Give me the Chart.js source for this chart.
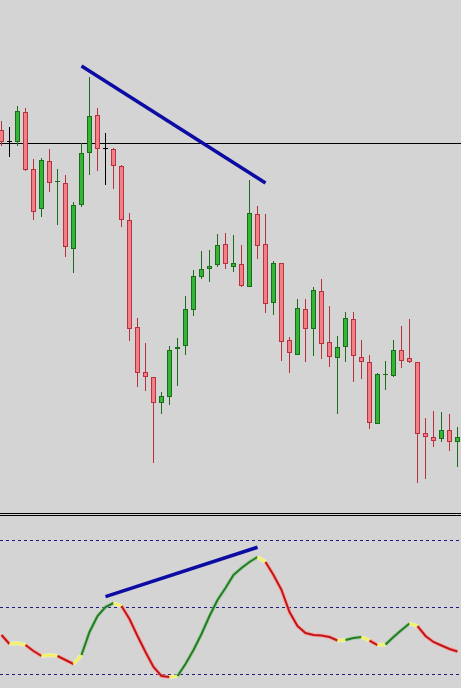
<!DOCTYPE html>
<html><head><meta charset="utf-8">
<script src="https://cdn.jsdelivr.net/npm/chart.js@4.4.1/dist/chart.umd.min.js"></script>
<style>
html,body{margin:0;padding:0;background:#d4d4d4;width:461px;height:688px;overflow:hidden}
#top{position:absolute;left:0;top:0;width:461px;height:513px}
#bot{position:absolute;left:0;top:516px;width:461px;height:172px}
.sep{position:absolute;left:0;width:461px;height:1px;background:#000}
canvas{display:block}
</style></head><body>
<div id="top"><canvas id="c1" width="461" height="513" style="width:461px;height:513px"></canvas></div>
<div class="sep" style="top:513px"></div>
<div class="sep" style="top:515px"></div>
<div id="bot"><canvas id="c2" width="461" height="172" style="width:461px;height:172px"></canvas></div>
<script>
// ---- price data (one entry per bar, oldest first) ----
const opens  = [1.3383,1.3371,1.3371,1.3401,1.3344,1.3304,1.3352,1.3331,1.3330,1.3264,1.3308,1.3360,1.3398,1.3364,1.3364,1.3347,1.3293,1.3186,1.3141,1.3136,1.3110,1.3116,1.3164,1.3167,1.3203,1.3236,1.3244,1.3248,1.3269,1.3246,1.3249,1.3226,1.3299,1.3269,1.3210,1.3250,1.3173,1.3158,1.3204,1.3184,1.3222,1.3171,1.3155,1.3166,1.3194,1.3156,1.3151,1.3089,1.3138,1.3137,1.3163,1.3155,1.3151,1.3080,1.3076,1.3074,1.3083,1.3071];
const highs  = [1.3392,1.3386,1.3407,1.3405,1.3354,1.3355,1.3364,1.3344,1.3338,1.3311,1.3370,1.3436,1.3405,1.3380,1.3365,1.3348,1.3300,1.3195,1.3170,1.3136,1.3121,1.3167,1.3175,1.3217,1.3243,1.3262,1.3263,1.3279,1.3280,1.3278,1.3268,1.3333,1.3307,1.3299,1.3252,1.3250,1.3176,1.3214,1.3214,1.3226,1.3234,1.3207,1.3177,1.3201,1.3201,1.3173,1.3158,1.3140,1.3152,1.3173,1.3187,1.3194,1.3151,1.3095,1.3102,1.3101,1.3099,1.3086];
const lows   = [1.3367,1.3356,1.3367,1.3342,1.3293,1.3296,1.3321,1.3288,1.3256,1.3240,1.3306,1.3338,1.3342,1.3328,1.3324,1.3286,1.3172,1.3126,1.3122,1.3050,1.3099,1.3108,1.3127,1.3158,1.3197,1.3234,1.3231,1.3246,1.3244,1.3241,1.3226,1.3226,1.3254,1.3200,1.3198,1.3152,1.3140,1.3158,1.3151,1.3157,1.3154,1.3146,1.3099,1.3151,1.3131,1.3134,1.3084,1.3089,1.3123,1.3136,1.3145,1.3150,1.3030,1.3034,1.3066,1.3071,1.3062,1.3046];
const closes = [1.3371,1.3371,1.3402,1.3343,1.3301,1.3353,1.3330,1.33315,1.3266,1.3308,1.3360,1.3397,1.3364,1.3364,1.3347,1.3293,1.3184,1.3140,1.3136,1.3110,1.3117,1.3163,1.3166,1.3204,1.3237,1.3244,1.3247,1.3268,1.3249,1.3250,1.3227,1.3300,1.3267,1.3209,1.3250,1.3171,1.3160,1.3205,1.3184,1.3223,1.3169,1.3156,1.3166,1.3195,1.3157,1.3151,1.3090,1.3139,1.31385,1.3163,1.3152,1.3151,1.3079,1.3076,1.3072,1.3083,1.3071,1.3076];

// ---- oscillator (sub-window) ----
const oscValues = [37.68,33.65,34.10,33.20,30.52,28.28,28.73,28.28,26.49,24.70,28.73,39.03,46.19,50.22,52.01,50.67,44.85,37.24,30.07,23.35,19.32,18.88,19.32,24.70,30.97,38.13,46.19,53.35,58.73,64.55,67.68,70.37,72.61,70.37,64.55,57.83,47.98,41.71,38.58,37.68,37.46,36.79,35.22,35.44,36.34,36.79,35.22,33.20,33.43,36.79,39.92,42.83,41.71,37.24,34.55,32.98,31.41,30.29];
const oscLevels = [80, 50, 20];

// ---- drawn objects ----
const hLinePrice = 1.33695;
const priceTrendBars = [10, 33];
const priceTrendValues = [1.3447, 1.3330];
const oscTrendBars = [13, 32];
const oscTrendValues = [54.84, 76.96];

// ---- view ----
const X_MIN = -0.1875, X_MAX = 57.4375;
const PRICE_MIN = 1.3000, PRICE_MAX = 1.3513;
const OSC_MIN = 13.955, OSC_MAX = 90.97;

const UP_FILL = '#35b535', UP_EDGE = '#1b6c1b';
const DN_FILL = '#f07f86', DN_EDGE = '#b8313d';
const DOJI = '#000000';

function kind(i){ return closes[i] > opens[i] ? 1 : (closes[i] < opens[i] ? -1 : 0); }
function fillColor(ctx){ const i = ctx.dataIndex; if (i === undefined) return UP_FILL; const k = kind(i); return k > 0 ? UP_FILL : (k < 0 ? DN_FILL : DOJI); }
function edgeColor(ctx){ const i = ctx.dataIndex; if (i === undefined) return UP_EDGE; const k = kind(i); return k > 0 ? UP_EDGE : (k < 0 ? DN_EDGE : DOJI); }

const idx = opens.map((_, i) => i);

const baseScales = (ymin, ymax) => ({
  x: { type: 'linear', display: false, min: X_MIN, max: X_MAX, offset: false, grid: { display: false } },
  y: { type: 'linear', display: false, min: ymin, max: ymax, grid: { display: false } }
});
const common = {
  responsive: false, animation: false, events: [],
  layout: { padding: 0 },
  plugins: { legend: { display: false }, tooltip: { enabled: false } }
};

new Chart(document.getElementById('c1'), {
  type: 'bar',
  data: {
    datasets: [
      { type: 'line', data: [{x: X_MIN, y: hLinePrice}, {x: X_MAX, y: hLinePrice}],
        borderColor: '#000', borderWidth: 1, pointRadius: 0, order: 5 },
      { type: 'bar', data: idx.map(i => ({x: i, y: [lows[i], highs[i]]})),
        backgroundColor: edgeColor, borderWidth: 0, barThickness: 1, grouped: false, inflateAmount: 0, order: 4 },
      { type: 'bar', data: idx.map(i => ({x: i, y: [opens[i], closes[i]]})),
        backgroundColor: fillColor, borderColor: edgeColor, borderWidth: 1, borderSkipped: false,
        barThickness: 5, minBarLength: 1, grouped: false, inflateAmount: 0, order: 3 },
      { type: 'line', data: priceTrendBars.map((b, j) => ({x: b, y: priceTrendValues[j]})),
        borderColor: '#0c0ca4', borderWidth: 3.5, pointRadius: 0, order: 0, borderCapStyle: 'butt' }
    ]
  },
  options: Object.assign({}, common, { scales: baseScales(PRICE_MIN, PRICE_MAX) })
});

function dir(i){ return Math.sign(oscValues[i + 1] - oscValues[i]); }
function segKind(i){
  const d = dir(i);
  if (i > 0 && d !== dir(i - 1)) return 'y';
  return d > 0 ? 'g' : 'r';
}
const SEG = { g: '#237c23', r: '#c21616', y: '#f2f25a' };
const HALO = { g: 'rgba(140,200,140,0.55)', r: 'rgba(255,150,150,0.7)', y: 'rgba(255,255,170,0.6)' };

const oscPoints = idx.map(i => ({x: i, y: oscValues[i]}));
const levelSets = oscLevels.map(v => ({
  data: [{x: X_MIN, y: v}, {x: X_MAX, y: v}], borderColor: '#1c1c7c', borderWidth: 1,
  borderDash: [3, 3], pointRadius: 0, order: 5
}));

new Chart(document.getElementById('c2'), {
  type: 'line',
  data: {
    datasets: levelSets.concat([
      { data: oscPoints, borderWidth: 4, pointRadius: 0, tension: 0, order: 3,
        segment: { borderColor: c => HALO[segKind(c.p0DataIndex)] } },
      { data: oscPoints, borderWidth: 2, pointRadius: 0, tension: 0, order: 2,
        segment: { borderColor: c => SEG[segKind(c.p0DataIndex)] } },
      { data: oscTrendBars.map((b, j) => ({x: b, y: oscTrendValues[j]})),
        borderColor: '#0c0ca4', borderWidth: 3.5, pointRadius: 0, order: 0, borderCapStyle: 'butt' }
    ])
  },
  options: Object.assign({}, common, { scales: baseScales(OSC_MIN, OSC_MAX) })
});
</script>
</body></html>
